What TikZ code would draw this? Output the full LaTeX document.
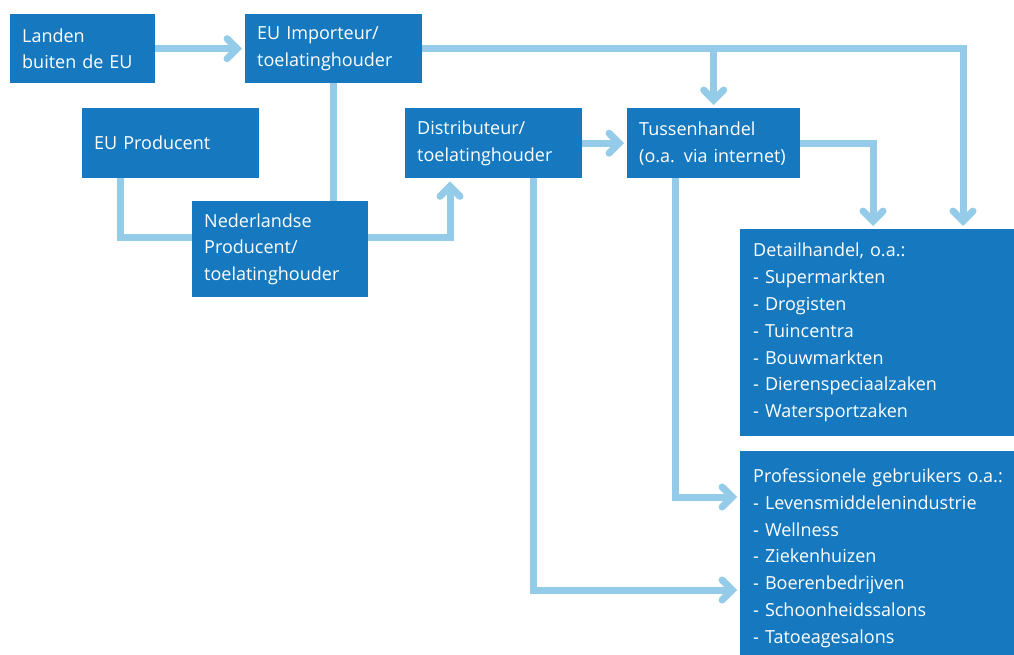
\documentclass[tikz,border=0pt]{standalone}
\usepackage{fontspec}
\setmainfont{Open Sans}
\usetikzlibrary{arrows.meta}

\definecolor{boxblue}{HTML}{1679BF}
\definecolor{lineblue}{HTML}{93CBE8}

\tikzset{box/.style={
		fill=boxblue, text=white, anchor=north west,
		inner xsep=12pt, inner ysep=0pt, align=left,
		font=\fontsize{18}{26.8}\selectfont
	},
	flow/.style={lineblue, line width=7pt},
	flowarrow/.style={flow, -{Straight Barb[length=10pt, width=20pt, line cap=round]}, shorten >=3pt}
}

\begin{document}
\begin{tikzpicture}[x=1pt, y=-1pt]
	\useasboundingbox (0,0) rectangle (1014,655);
		\node[box, text width=121pt, minimum height=69pt] (landen) at (10,14) {Landen\\buiten de EU};
		\node[box, text width=153pt, minimum height=69pt] (imp) at (245,14) {EU Importeur/\\toelatinghouder};
		\node[box, text width=153pt, minimum height=70pt] (eup) at (82,108) {EU Producent};
		\node[box, text width=152pt, minimum height=96pt] (ned) at (192,201) {Nederlandse\\Producent/\\toelatinghouder};
		\node[box, text width=153pt, minimum height=70pt] (dis) at (405,108) {Distributeur/\\toelatinghouder};
		\node[box, text width=149pt, minimum height=70pt] (tus) at (627,108) {Tussenhandel\\(o.a. via internet)};
		\node[box, text width=290pt, inner xsep=13pt, minimum height=207pt] (det) at (740,229) {Detailhandel, o.a.:\\- Supermarkten\\- Drogisten\\- Tuincentra\\- Bouwmarkten\\- Dierenspeciaalzaken\\- Watersportzaken};
		\node[box, text width=290pt, inner xsep=13pt, minimum height=214pt] (prof) at (740,451) {Professionele gebruikers o.a.:\\- Levensmiddelenindustrie\\- Wellness\\- Ziekenhuizen\\- Boerenbedrijven\\- Schoonheidssalons\\- Tatoeagesalons};
		% lines without arrow
		\draw[flow] ([xshift=88pt]imp.south west) -- ([xshift=88pt]imp.south west |- ned.north);
		\draw[flow] ([xshift=38pt]eup.south west) |- ([yshift=12pt]ned.west);
		% arrows
		\draw[flowarrow] (landen.east) -- (imp.west);
		\draw[flowarrow] (imp.east) -| ([xshift=223pt]det.north west);
		\draw[flowarrow] (imp.east -| tus.north) -- (tus.north);
		\draw[flowarrow] ([yshift=12pt]ned.east) -| ([xshift=45pt]dis.south west);
		\draw[flowarrow] (dis.east) -- (tus.west);
		\draw[flowarrow] (tus.east) -| ([xshift=133pt]det.north west);
		\draw[flowarrow] ([xshift=48pt]tus.south west) |- ([yshift=-46pt]prof.north west);
		\draw[flowarrow] ([xshift=128pt]dis.south west) |- ([yshift=-139pt]prof.north west);
\end{tikzpicture}
\end{document}
